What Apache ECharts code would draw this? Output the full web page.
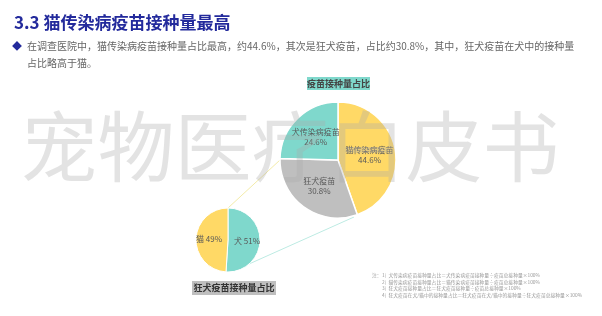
<!DOCTYPE html>
<html><head><meta charset="utf-8">
<script src="https://cdn.jsdelivr.net/npm/echarts@6/dist/echarts.min.js"></script>
<style>html,body{margin:0;padding:0;background:#fff}#c{width:602px;height:316px}</style>
</head><body><div id="c"></div>
<script>
const mainCategories = ['猫传染病疫苗', '狂犬疫苗', '犬传染病疫苗'];
const mainValues = [44.6, 30.8, 24.6];
const subCategories = ['犬', '猫'];
const subValues = [51, 49];
const mainColors = ['#FFD966', '#BFBFBF', '#7FD8CC'];
const subColors = ['#7FD8CC', '#FFD966'];
const footnotes = [
  '1)  犬传染病疫苗接种量占比＝犬传染病疫苗接种量÷疫苗总接种量×100%',
  '2)  猫传染病疫苗接种量占比＝猫传染病疫苗接种量÷疫苗总接种量×100%',
  '3)  狂犬疫苗接种量占比＝狂犬疫苗接种量÷疫苗总接种量×100%',
  '4)  狂犬疫苗在犬/猫中的接种量占比＝狂犬疫苗在犬/猫中的接种量÷狂犬疫苗总接种量×100%'
];
const FONT = '"Noto Sans CJK SC", "Noto Sans", sans-serif';
const chart = echarts.init(document.getElementById('c'));
const graphics = [
  {type:'text', left:14, top:14, style:{text:'3.3 猫传染病疫苗接种量最高', font:'bold 17px '+FONT, fill:'#232a9c'}},
  {type:'text', left:12, top:41, style:{text:'◆', font:'10px '+FONT, fill:'#232a9c'}},
  {type:'text', left:27, top:41, style:{text:'在调查医院中，猫传染病疫苗接种量占比最高，约44.6%，其次是狂犬疫苗，占比约30.8%，其中，狂犬疫苗在犬中的接种量', font:'10px '+FONT, fill:'#666'}},
  {type:'text', left:27, top:58, style:{text:'占比略高于猫。', font:'10px '+FONT, fill:'#666'}},
  {type:'line', shape:{x1:228, y1:208, x2:280, y2:160}, style:{stroke:'#F3EBA8', lineWidth:1}, z:-1},
  {type:'line', shape:{x1:249, y1:264, x2:354, y2:217}, style:{stroke:'#BDEBE3', lineWidth:1}, z:-1},
  {type:'rect', shape:{x:307, y:77, width:63, height:13}, style:{fill:'#7FD8CC'}},
  {type:'text', x:338.5, y:83.5, style:{text:'疫苗接种量占比', font:'bold 9px '+FONT, fill:'#444', textAlign:'center', textVerticalAlign:'middle'}},
  {type:'rect', shape:{x:192, y:281, width:84, height:14}, style:{fill:'#BFBFBF'}},
  {type:'text', x:234, y:288, style:{text:'狂犬疫苗接种量占比', font:'bold 9px '+FONT, fill:'#333', textAlign:'center', textVerticalAlign:'middle'}},
  {type:'text', left:372, top:273, style:{text:'注：', font:'4.8px '+FONT, fill:'#999'}}
];
footnotes.forEach((t,i)=>graphics.push({type:'text', left:382, top:273+i*6.5, style:{text:t, font:'4.8px '+FONT, fill:'#999'}}));
graphics.push({type:'text', x:290, y:147, z:100, style:{text:'宠物医疗白皮书', font:'77px '+FONT, fill:'rgba(170,170,170,0.33)', textAlign:'center', textVerticalAlign:'middle'}});

chart.setOption({
  animation:false,
  graphic: graphics,
  series:[
    {type:'pie', center:[338,160], radius:[0,58], startAngle:90, clockwise:true,
     itemStyle:{borderColor:'#fff', borderWidth:1.5},
     label:{show:true, position:'inside', formatter:'{b}\n{c}%', color:'#595959', fontSize:8, fontFamily:FONT, lineHeight:10},
     labelLine:{show:false},
     labelLayout:{hideOverlap:false},
     data: mainCategories.map((n,i)=>({name:n, value:mainValues[i], itemStyle:{color:mainColors[i]}}))},
    {type:'pie', center:[228,240], radius:[0,32], startAngle:90, clockwise:true,
     itemStyle:{borderColor:'#fff', borderWidth:1},
     label:{show:true, position:'inside', formatter:'{b} {c}%', color:'#595959', fontSize:8, fontFamily:FONT},
     labelLine:{show:false},
     labelLayout:{hideOverlap:false},
     data: subCategories.map((n,i)=>({name:n, value:subValues[i], itemStyle:{color:subColors[i]}}))}
  ]
});
</script></body></html>
